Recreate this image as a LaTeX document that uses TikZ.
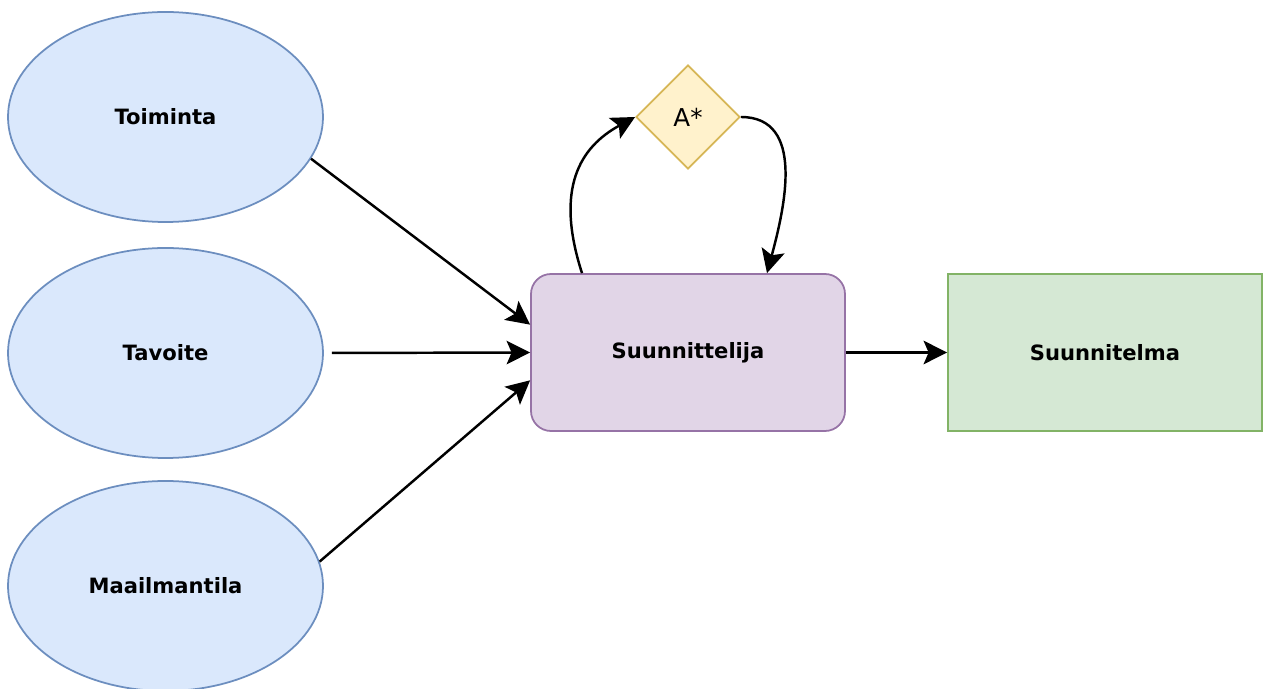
\documentclass[tikz,border=0pt]{standalone}
\usepackage{fontspec}
\setmainfont{DejaVu Sans}
\usetikzlibrary{arrows.meta, shapes.geometric, calc}
\definecolor{inblue}{HTML}{DAE8FC}
\definecolor{inbluel}{HTML}{6C8EBF}
\definecolor{plpurple}{HTML}{E1D5E7}
\definecolor{plpurplel}{HTML}{9673A6}
\definecolor{outgreen}{HTML}{D5E8D4}
\definecolor{outgreenl}{HTML}{82B366}
\definecolor{algyellow}{HTML}{FFF2CC}
\definecolor{algyellowl}{HTML}{D6B656}
\tikzset{>={Stealth[length=0.47cm, width=0.47cm, inset=0.1cm]}}
\tikzset{
  lbl/.style={font=\fontsize{12}{14}\selectfont\bfseries},
  input/.style={ellipse, draw=inbluel, fill=inblue, line width=1pt, minimum width=6.3cm, minimum height=4.2cm, lbl},
  box/.style={rectangle, line width=1pt, minimum width=6.28cm, minimum height=3.14cm, lbl},
  flow/.style={->, line width=1.4pt}
}

\begin{document}
\begin{tikzpicture}
	\useasboundingbox (0,0) rectangle (25.36,-13.78);
	% inputs
	\node [input] (toim) at (3.31,-2.34) {Toiminta};
	\node [input] (tavo) at (3.31,-7.06) {Tavoite};
	\node [input] (maai) at (3.31,-11.72) {Maailmantila};
	% planner, search and result
	\node [box, draw=plpurplel, fill=plpurple, rounded corners=0.4cm] (suun) at (13.76,-7.05) {Suunnittelija};
	\node [box, draw=outgreenl, fill=outgreen] (plan) at (22.1,-7.05) {Suunnitelma};
	\node [diamond, aspect=1, draw=algyellowl, fill=algyellow, line width=1pt, minimum width=2.08cm, minimum height=2.08cm, inner sep=0pt, font=\fontsize{14}{16}\selectfont] (astar) at (13.76,-2.34) {A*};
	% arrows
	\draw [flow] (toim.-16) -- (suun.170);
	\draw [flow, shorten <=0.16cm] (tavo.east) -- (suun.west);
	\draw [flow] (maai.9) -- (suun.190);
	\draw [flow] (suun.east) -- (plan.west);
	\draw [flow] ($(suun.north)+(-2.12,0)$) .. controls +(-0.55,1.7) and +(-1.1,-0.6) .. (astar.west);
	\draw [flow] (astar.east) .. controls +(1.3,0) and +(0.35,1.3) .. ($(suun.north)+(1.58,0)$);
\end{tikzpicture}
\end{document}
